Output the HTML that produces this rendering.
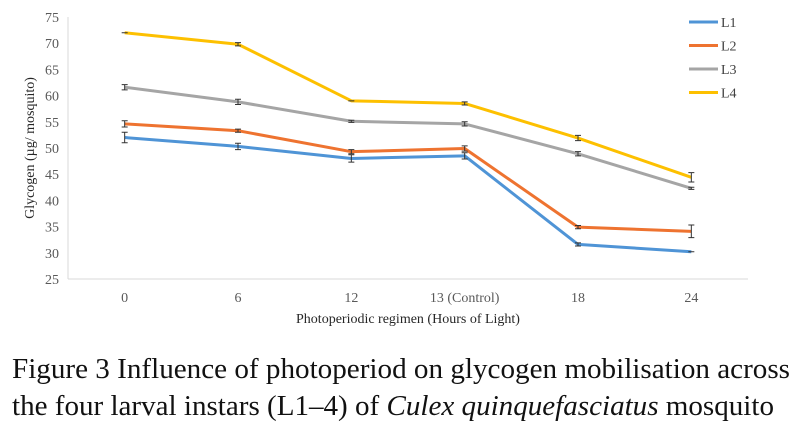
<!DOCTYPE html>
<html><head><meta charset="utf-8"><style>
body{margin:0;background:#fff;width:800px;height:444px;overflow:hidden}
svg text{font-family:"Liberation Serif",serif}
</style></head><body>
<svg id="chart" width="800" height="444" style="position:absolute;left:0;top:0">
<text x="12" y="378" font-size="29" fill="#111" textLength="778" lengthAdjust="spacingAndGlyphs">Figure 3 Influence of photoperiod on glycogen mobilisation across</text>
<text x="12" y="415" font-size="29" fill="#111" textLength="762" lengthAdjust="spacingAndGlyphs">the four larval instars (L1–4) of <tspan font-style="italic">Culex quinquefasciatus</tspan> mosquito</text>
</svg>
<script>
const categories=["0","6","12","13 (Control)","18","24"];
const yTicks=[25,30,35,40,45,50,55,60,65,70,75];
const seriesNames=["L1","L2","L3","L4"];
const L1=[52,50.3,48,48.5,31.6,30.2];
const L2=[54.6,53.3,49.3,49.9,34.9,34.1];
const L3=[61.6,58.8,55.1,54.6,48.9,42.3];
const L4=[72,69.8,59,58.5,51.9,44.4];
const L1err=[1,0.6,0.7,0.6,0.3,0];
const L2err=[0.6,0.3,0.4,0.5,0.3,1.2];
const L3err=[0.5,0.5,0.2,0.4,0.4,0.2];
const L4err=[0,0.3,0,0.3,0.5,0.9];
const colors=["#4f94d6","#ee7330","#a5a5a5","#fdc000"];
const svg=document.getElementById('chart');
const NS='http://www.w3.org/2000/svg';
const X0=68,X1=748,Y0=279,Y1=17,ymin=25,ymax=75;
const band=(X1-X0)/categories.length;
const xs=i=>X0+band*(i+0.5);
const ys=v=>Y0-(v-ymin)/(ymax-ymin)*(Y0-Y1);
function mk(tag,a){const e=document.createElementNS(NS,tag);for(const k in a)e.setAttribute(k,a[k]);svg.appendChild(e);return e;}
let e;
e=mk('line',{x1:X0,y1:Y1,x2:X0,y2:Y0,stroke:'#d9d9d9','stroke-width':1});

e=mk('line',{x1:X0,y1:Y0,x2:X1,y2:Y0,stroke:'#d9d9d9','stroke-width':1});

yTicks.forEach(t=>{e=mk('text',{x:X0-9,y:ys(t)+5,'text-anchor':'end','font-size':14,fill:'#595959'});e.textContent=t;
});
categories.forEach((c,i)=>{e=mk('text',{x:xs(i),y:302,'text-anchor':'middle','font-size':14,fill:'#595959'});e.textContent=c;
});
e=mk('text',{x:408,y:323,'text-anchor':'middle','font-size':14,fill:'#262626'});e.textContent='Photoperiodic regimen (Hours of Light)';

e=mk('text',{x:0,y:0,'text-anchor':'middle','font-size':14,fill:'#262626',transform:'translate(34,148) rotate(-90)'});e.textContent='Glycogen (µg/ mosquito)';

const all=[L1,L2,L3,L4],errs=[L1err,L2err,L3err,L4err];
all.forEach((s,k)=>{
 e=mk('polyline',{points:s.map((v,i)=>xs(i)+','+ys(v)).join(' '),fill:'none',stroke:colors[k],'stroke-width':3,'stroke-linejoin':'round'});
 
 s.forEach((v,i)=>{const er=errs[k][i];const x=xs(i),a=ys(v+er),b=ys(v-er);
  e=mk('path',{d:`M${x},${a}V${b}M${x-3},${a}H${x+3}M${x-3},${b}H${x+3}`,stroke:'#333','stroke-width':1,fill:'none'});
  });
});
seriesNames.forEach((n,k)=>{const y=22+k*23.5;
 e=mk('line',{x1:689,y1:y,x2:718,y2:y,stroke:colors[k],'stroke-width':3});
 
 e=mk('text',{x:721,y:y+5,'font-size':14,fill:'#404040'});e.textContent=n;
 });
</script>
</body></html>
